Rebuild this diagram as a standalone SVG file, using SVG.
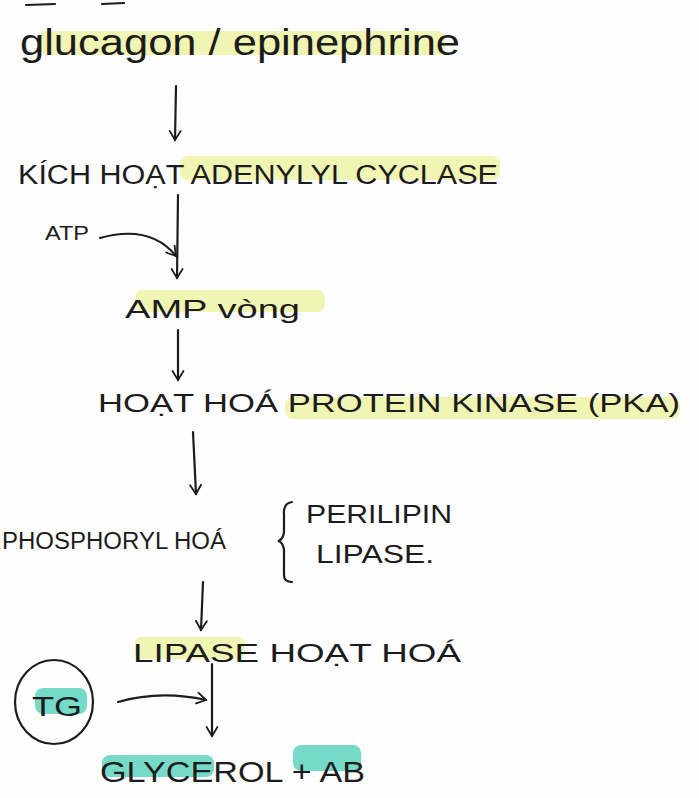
<svg xmlns="http://www.w3.org/2000/svg" width="699" height="798" viewBox="0 0 699 798">
<defs>
<marker id="ah" viewBox="0 0 14 14" refX="12" refY="7" markerWidth="14" markerHeight="14" markerUnits="userSpaceOnUse" orient="auto">
<path d="M3,1.5 L12,7 L3,12.5" fill="none" stroke="#1c1c1c" stroke-width="1.8" stroke-linecap="round"/>
</marker>
</defs>
<style>
text{font-family:"Liberation Sans","DejaVu Sans",sans-serif;fill:#1c1c1c}
.y{fill:#eef3a6;opacity:.85}
.t{fill:#5fd3c0;opacity:.85}
.c{stroke:#1c1c1c;stroke-width:2.2;fill:none;stroke-linecap:round}
</style>
<rect width="699" height="798" fill="#fefefe"/>
<path class="c" d="M26,5 L55,4 M102,4 L124,3"/>
<g id="n1">
<rect class="y" x="40" y="31" width="405" height="24" rx="8"/>
<text x="20" y="55" font-size="36" textLength="440" lengthAdjust="spacingAndGlyphs">glucagon / epinephrine</text>
</g>
<g id="n2">
<rect class="y" x="180" y="156" width="320" height="24" rx="8"/>
<text x="18" y="184" font-size="27" textLength="480" lengthAdjust="spacingAndGlyphs">KÍCH HOẠT ADENYLYL CYCLASE</text>
</g>
<g id="atp"><text x="45" y="240" font-size="20" textLength="44" lengthAdjust="spacingAndGlyphs">ATP</text></g>
<g id="n3">
<rect class="y" x="135" y="290" width="190" height="22" rx="8"/>
<text x="125" y="318" font-size="26" textLength="175" lengthAdjust="spacingAndGlyphs">AMP vòng</text>
</g>
<g id="n4">
<rect class="y" x="285" y="397" width="395" height="22" rx="8"/>
<text x="98" y="412" font-size="26" textLength="582" lengthAdjust="spacingAndGlyphs">HOẠT HOÁ PROTEIN KINASE (PKA)</text>
</g>
<g id="n5">
<text x="2" y="549" font-size="23" textLength="224" lengthAdjust="spacingAndGlyphs">PHOSPHORYL HOÁ</text>
<path class="c" d="M292,502 Q283,503 284,515 L284,532 Q283,540 278,541 Q283,542 284,550 L284,575 Q284,582 292,582"/>
<text x="306" y="523" font-size="26" textLength="146" lengthAdjust="spacingAndGlyphs">PERILIPIN</text>
<text x="316" y="563" font-size="26" textLength="118" lengthAdjust="spacingAndGlyphs">LIPASE.</text>
</g>
<g id="n6">
<rect class="y" x="135" y="637" width="110" height="22" rx="6"/>
<text x="133" y="662" font-size="25" textLength="328" lengthAdjust="spacingAndGlyphs">LIPASE HOẠT HOÁ</text>
</g>
<g id="n7">
<rect class="t" x="35" y="688" width="52" height="26" rx="8"/>
<ellipse cx="54" cy="702" rx="39" ry="42" fill="none" stroke="#1c1c1c" stroke-width="2.2"/>
<text x="32" y="716" font-size="28" textLength="50" lengthAdjust="spacingAndGlyphs">TG</text>
</g>
<g id="n8">
<rect class="t" x="102" y="755" width="112" height="22" rx="8"/>
<rect class="t" x="293" y="745" width="68" height="26" rx="8"/>
<text x="100" y="782" font-size="30" textLength="265" lengthAdjust="spacingAndGlyphs">GLYCEROL + AB</text>
</g>
<g id="connectors">
<path class="c" d="M176,86 L175,140" marker-end="url(#ah)"/>
<path class="c" d="M178,195 L177,278" marker-end="url(#ah)"/>
<path class="c" d="M100,238 Q150,224 176,256" marker-end="url(#ah)"/>
<path class="c" d="M178,330 L178,380" marker-end="url(#ah)"/>
<path class="c" d="M193,432 L196,494" marker-end="url(#ah)"/>
<path class="c" d="M203,582 L201,630" marker-end="url(#ah)"/>
<path class="c" d="M212,664 L212,736" marker-end="url(#ah)"/>
<path class="c" d="M118,702 Q160,690 206,700" marker-end="url(#ah)"/>
</g>
</svg>
